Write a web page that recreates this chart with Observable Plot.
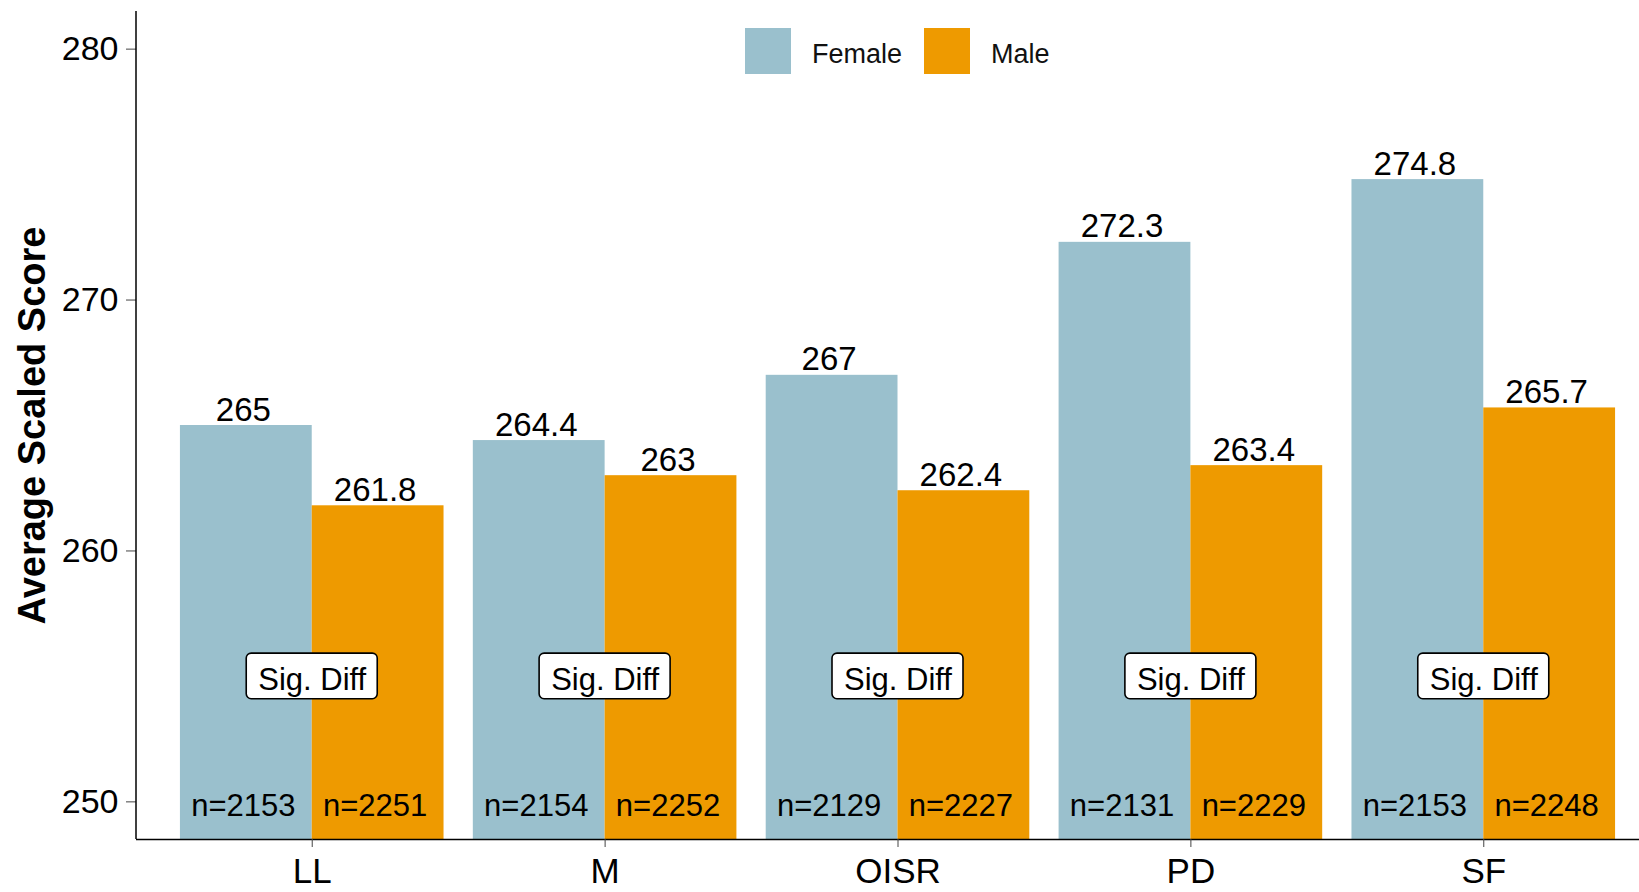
<!DOCTYPE html>
<html>
<head>
<meta charset="utf-8">
<script src="https://cdn.jsdelivr.net/npm/d3@7"></script>
<script src="https://cdn.jsdelivr.net/npm/@observablehq/plot@0.6"></script>
<style>
  html, body { margin: 0; padding: 0; background: white; overflow: hidden; }
  #wrap { position: relative; width: 1639px; height: 892px; font-family: "Liberation Sans", Arial, sans-serif; }
  #legend { position: absolute; left: 745px; top: 28px; display: flex; align-items: center; font-size: 27px; color: #111; }
  #legend .sw { width: 46px; height: 46px; }
  #legend .lb { margin-left: 21px; margin-right: 22px; position: relative; top: 3px; }
</style>
</head>
<body>
<div id="wrap">
  <div id="chart"></div>
  <div id="legend"></div>
</div>
<script>
// ---- data ----
const categories = ["LL", "M", "OISR", "PD", "SF"];
const femaleScores = [265, 264.4, 267, 272.3, 274.8];
const maleScores = [261.8, 263, 262.4, 263.4, 265.7];
const femaleN = [2153, 2154, 2129, 2131, 2153];
const maleN = [2251, 2252, 2227, 2229, 2248];
const sigLabels = ["Sig. Diff", "Sig. Diff", "Sig. Diff", "Sig. Diff", "Sig. Diff"];
const yTicks = [250, 260, 270, 280];
const seriesNames = ["Female", "Male"];
const yTitle = "Average Scaled Score";
const sigLabelY = 255;
const nLabelY = 250;

// ---- styles / layout ----
const colors = { Female: "#9AC0CD", Male: "#EE9A00" };
const W = 1639, H = 892;
const marginLeft = 136, marginRight = -20, marginTop = 11, marginBottom = 53;
const yDomain = [248.5, 281.5];
const padInner = 0.1, padOuter = 0.15;
const step = (W - marginLeft - marginRight) / (categories.length - padInner + 2 * padOuter);
const bw = step * (1 - padInner);
const boxW = 131;
const boxHalf = 0.91;
const nudge = -3;

const rows = categories.map((c, i) => ({
  cat: c, female: femaleScores[i], male: maleScores[i],
  fN: "n=" + femaleN[i], mN: "n=" + maleN[i], sig: sigLabels[i]
}));

const plot = Plot.plot({
  width: W, height: H,
  marginLeft, marginRight, marginTop, marginBottom,
  style: { fontFamily: '"Liberation Sans", Arial, sans-serif', background: "white", color: "black", overflow: "hidden" },
  x: { domain: categories, paddingInner: padInner, paddingOuter: padOuter, round: false, axis: null, label: null },
  y: { domain: yDomain, axis: null, label: null },
  marks: [
    Plot.barY(rows, { x: "cat", y1: yDomain[0], y2: "female", fill: colors.Female, insetLeft: 0, insetRight: bw / 2 }),
    Plot.barY(rows, { x: "cat", y1: yDomain[0], y2: "male", fill: colors.Male, insetLeft: bw / 2, insetRight: 0 }),
    Plot.text(rows, { x: "cat", y: "female", text: d => String(d.female), dx: -bw / 4 + nudge, dy: -5, lineAnchor: "bottom", fontSize: 33, fill: "black" }),
    Plot.text(rows, { x: "cat", y: "male", text: d => String(d.male), dx: bw / 4 + nudge, dy: -5, lineAnchor: "bottom", fontSize: 33, fill: "black" }),
    Plot.barY(rows, { x: "cat", y1: () => sigLabelY - boxHalf, y2: () => sigLabelY + boxHalf, fill: "white", stroke: "black", strokeWidth: 1.6, rx: 5, insetLeft: (bw - boxW) / 2, insetRight: (bw - boxW) / 2 }),
    Plot.text(rows, { x: "cat", y: () => sigLabelY, text: "sig", lineAnchor: "middle", dy: 4, fontSize: 31, fill: "black" }),
    Plot.text(rows, { x: "cat", y: () => nLabelY, text: "fN", dx: -bw / 4 + nudge, lineAnchor: "middle", dy: 4, fontSize: 31, fill: "black" }),
    Plot.text(rows, { x: "cat", y: () => nLabelY, text: "mN", dx: bw / 4 + nudge, lineAnchor: "middle", dy: 4, fontSize: 31, fill: "black" }),
    Plot.ruleY([yDomain[0]], { stroke: "black", strokeWidth: 1.5 }),
    Plot.axisY({ ticks: yTicks, tickSize: 10, tickPadding: 8, fontSize: 34, stroke: "#444", fill: "black", label: null }),
    Plot.axisX({ tickSize: 8, tickPadding: 11, fontSize: 35, stroke: "#444", fill: "black", label: null }),
    Plot.text([yTitle], { frameAnchor: "left", dx: -104, rotate: -90, textAnchor: "middle", lineAnchor: "middle", fontSize: 38, fontWeight: "bold", fill: "black" })
  ]
});

// left axis line
d3.select(plot).append("line")
  .attr("x1", marginLeft).attr("x2", marginLeft)
  .attr("y1", marginTop).attr("y2", H - marginBottom)
  .attr("stroke", "black").attr("stroke-width", 1.5);

document.getElementById("chart").appendChild(plot);

// legend
const legend = d3.select("#legend");
seriesNames.forEach(name => {
  legend.append("div").attr("class", "sw").style("background", colors[name]);
  legend.append("div").attr("class", "lb").text(name);
});
</script>
</body>
</html>
